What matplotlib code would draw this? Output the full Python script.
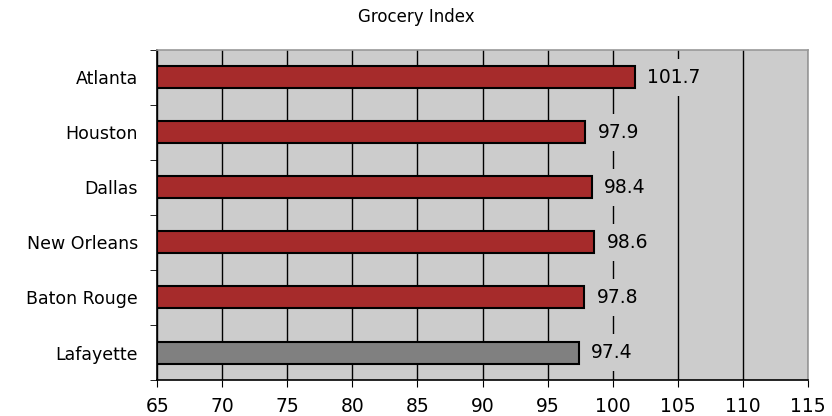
import numpy as np
import matplotlib
matplotlib.use('Agg')
import matplotlib.pyplot as plt

cities = ['Atlanta', 'Houston', 'Dallas', 'New Orleans', 'Baton Rouge', 'Lafayette']
values = [101.7, 97.9, 98.4, 98.6, 97.8, 97.4]
bar_colors = ['#A62B2B'] * 5 + ['#808080']

plt.rcParams['font.family'] = ['DejaVu Sans']

fig = plt.figure(figsize=(8.32, 4.16), dpi=100)
ax = fig.add_axes([0.189, 0.0865, 0.782, 0.7935])
ax.set_facecolor('#CCCCCC')

y = np.arange(len(cities))
ax.barh(y, [v - 65 for v in values], left=65, height=0.4, color=bar_colors,
        edgecolor='black', linewidth=1.5, zorder=3)

# value labels with background box to break the gridlines
for yi, v in zip(y, values):
    ax.annotate(f'{v:.1f}', xy=(v, yi), xytext=(9, 0), textcoords='offset points',
                ha='left', va='center', fontsize=13.5,
                bbox=dict(boxstyle='square,pad=0.5', fc='#CCCCCC', ec='none'), zorder=4)

ax.set_xlim(65, 115)
ax.set_ylim(len(cities) - 0.5, -0.5)
ax.set_xticks(np.arange(65, 116, 5))
ax.tick_params(axis='x', labelsize=13.5, length=5, direction='out', pad=7)
ax.xaxis.grid(True, color='black', linewidth=1.0, zorder=1)
ax.set_axisbelow(True)

ax.set_yticks(y)
ax.set_yticklabels(cities, fontsize=12.5)
ax.tick_params(axis='y', length=0, pad=14)
ax.set_yticks(np.arange(-0.5, len(cities), 1), minor=True)
ax.tick_params(axis='y', which='minor', length=5, direction='out')

for s in ['left', 'bottom']:
    ax.spines[s].set_color('black')
    ax.spines[s].set_linewidth(1.2)
for s in ['top', 'right']:
    ax.spines[s].set_color('#999999')
    ax.spines[s].set_linewidth(1.2)

fig.text(0.5, 0.958, 'Grocery Index', ha='center', va='center', fontsize=12)

plt.savefig('out.png', dpi=100)
